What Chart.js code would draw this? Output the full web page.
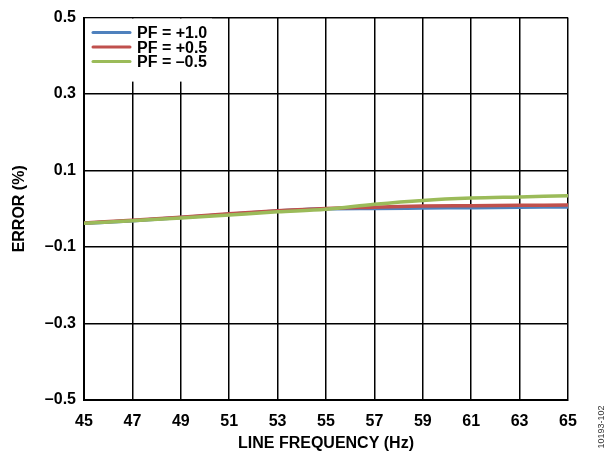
<!DOCTYPE html>
<html>
<head>
<meta charset="utf-8">
<script src="https://cdn.jsdelivr.net/npm/chart.js@4"></script>
<style>
    html, body { margin: 0; padding: 0; background: #fff; }
    #wrap { width: 612px; height: 453px; }
</style>
</head>
<body>
<div id="wrap"><canvas id="errorChart" width="612" height="453"></canvas></div>
<script>
// Data
const frequency = [45, 47, 49, 51, 53, 55, 57, 59, 61, 63, 65];
const pfPlus10 = [-0.038, -0.031, -0.023, -0.014, -0.006, 0.000, 0.001, 0.002, 0.003, 0.004, 0.005];
const pfPlus05 = [-0.037, -0.030, -0.022, -0.013, -0.005, 0.001, 0.004, 0.007, 0.008, 0.009, 0.010];
const pfMinus05 = [-0.038, -0.031, -0.024, -0.016, -0.008, -0.001, 0.012, 0.022, 0.028, 0.031, 0.034];

const seriesLabels = ['PF = +1.0', 'PF = +0.5', 'PF = \u20130.5'];
const xTicks = [45, 47, 49, 51, 53, 55, 57, 59, 61, 63, 65];
const yTicks = [-0.5, -0.3, -0.1, 0.1, 0.3, 0.5];

const FONT = "'Liberation Sans', Arial, sans-serif";

const toPoints = (values) => values.map((v, i) => ({ x: frequency[i], y: v }));

// Legend box inside the plot + figure code on the right
const insideLegend = {
    id: 'insideLegend',
    beforeDatasetsDraw(chart) {
        const { ctx, chartArea } = chart;
        ctx.save();
        ctx.fillStyle = '#fff';
        ctx.fillRect(chartArea.left + 1, chartArea.top + 1, 127, 63);
        ctx.restore();
    },
    afterDraw(chart) {
        const { ctx, chartArea } = chart;
        ctx.save();
        chart.data.datasets.forEach((ds, i) => {
            const y = chartArea.top + 15 + i * 14.5;
            ctx.strokeStyle = ds.borderColor;
            ctx.lineWidth = 3;
            ctx.lineCap = 'round';
            ctx.beginPath();
            ctx.moveTo(chartArea.left + 9, y);
            ctx.lineTo(chartArea.left + 46, y);
            ctx.stroke();
            ctx.fillStyle = '#000';
            ctx.font = `bold 16px ${FONT}`;
            ctx.textBaseline = 'middle';
            ctx.textAlign = 'left';
            ctx.fillText(ds.label, chartArea.left + 53, y + 1);
        });

        ctx.translate(602, 427);
        ctx.rotate(-Math.PI / 2);
        ctx.fillStyle = '#333';
        ctx.font = `9px ${FONT}`;
        ctx.textAlign = 'center';
        ctx.textBaseline = 'middle';
        ctx.fillText('10193-102', 0, 0);
        ctx.restore();
    }
};

const ctx = document.getElementById('errorChart').getContext('2d');
new Chart(ctx, {
    type: 'line',
    data: {
        datasets: [
            { label: seriesLabels[0], data: toPoints(pfPlus10), borderColor: '#4f81bd', order: 3 },
            { label: seriesLabels[1], data: toPoints(pfPlus05), borderColor: '#c0504d', order: 2 },
            { label: seriesLabels[2], data: toPoints(pfMinus05), borderColor: '#9bbb59', order: 1 }
        ].map(ds => ({ ...ds, borderWidth: 3.5, pointRadius: 0, tension: 0.4, cubicInterpolationMode: 'monotone', fill: false }))
    },
    options: {
        responsive: false,
        animation: false,
        layout: { padding: { top: 14, right: 44, bottom: 0, left: 0 } },
        plugins: {
            legend: { display: false },
            tooltip: { enabled: false }
        },
        scales: {
            x: {
                type: 'linear',
                min: 45,
                max: 65,
                afterBuildTicks: (axis) => { axis.ticks = xTicks.map(v => ({ value: v })); },
                afterFit: (axis) => { axis.height = 53; },
                grid: { color: '#000', lineWidth: 1.5, drawTicks: false },
                border: { color: '#000', width: 2 },
                ticks: {
                    color: '#000',
                    padding: 12,
                    maxRotation: 0,
                    font: { family: FONT, size: 16, weight: 'bold' }
                },
                title: {
                    display: true,
                    text: 'LINE FREQUENCY (Hz)',
                    color: '#000',
                    padding: { top: 0, bottom: 0 },
                    font: { family: FONT, size: 16, weight: 'bold' }
                }
            },
            y: {
                min: -0.5,
                max: 0.5,
                afterBuildTicks: (axis) => { axis.ticks = yTicks.map(v => ({ value: v })); },
                afterFit: (axis) => { axis.width = 84; },
                grid: { color: '#000', lineWidth: 1.5, drawTicks: false },
                border: { color: '#000', width: 2 },
                ticks: {
                    color: '#000',
                    padding: 8,
                    font: { family: FONT, size: 16, weight: 'bold' },
                    callback: (v) => (v < 0 ? '\u2013' : '') + Math.abs(v).toFixed(1)
                },
                title: {
                    display: true,
                    text: 'ERROR (%)',
                    color: '#000',
                    padding: { top: 10, bottom: 0 },
                    font: { family: FONT, size: 16, weight: 'bold' }
                }
            }
        }
    },
    plugins: [insideLegend]
});
</script>
</body>
</html>
